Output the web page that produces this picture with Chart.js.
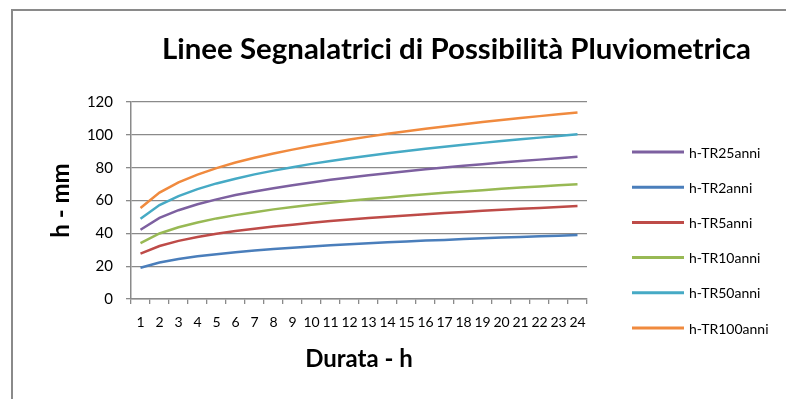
<!DOCTYPE html>
<html>
<head>
<meta charset="utf-8">
<script src="https://cdn.jsdelivr.net/npm/chart.js@4/dist/chart.umd.min.js"></script>
<style>
  html, body { margin: 0; padding: 0; background: #ffffff; }
  #wrap { width: 786px; height: 399px; }
</style>
</head>
<body>
<div id="wrap"><canvas id="lspp" width="786" height="399"></canvas></div>
<script>
// Durata (ore)
const durate = ['1','2','3','4','5','6','7','8','9','10','11','12','13','14','15','16','17','18','19','20','21','22','23','24'];

// Altezze di pioggia h (mm) per tempo di ritorno
const hTR25  = [42.2, 49.4, 54.1, 57.7, 60.7, 63.3, 65.5, 67.5, 69.3, 71.0, 72.6, 74.0, 75.4, 76.6, 77.8, 79.0, 80.1, 81.1, 82.1, 83.1, 84.0, 84.9, 85.8, 86.7];
const hTR2   = [19.0, 22.2, 24.4, 26.0, 27.3, 28.5, 29.5, 30.4, 31.2, 32.0, 32.7, 33.3, 33.9, 34.5, 35.0, 35.6, 36.0, 36.5, 37.0, 37.4, 37.8, 38.2, 38.6, 39.0];
const hTR5   = [27.6, 32.3, 35.4, 37.8, 39.7, 41.4, 42.8, 44.2, 45.3, 46.4, 47.5, 48.4, 49.3, 50.1, 50.9, 51.6, 52.4, 53.0, 53.7, 54.3, 54.9, 55.5, 56.1, 56.6];
const hTR10  = [34.1, 39.9, 43.7, 46.6, 49.1, 51.1, 52.9, 54.6, 56.0, 57.4, 58.6, 59.8, 60.9, 61.9, 62.9, 63.8, 64.7, 65.5, 66.3, 67.1, 67.9, 68.6, 69.3, 69.9];
const hTR50  = [48.9, 57.2, 62.7, 66.9, 70.4, 73.3, 75.9, 78.2, 80.3, 82.3, 84.1, 85.7, 87.3, 88.8, 90.2, 91.5, 92.8, 94.0, 95.1, 96.2, 97.3, 98.3, 99.3, 100.3];
const hTR100 = [55.4, 64.8, 71.0, 75.8, 79.7, 83.1, 86.0, 88.6, 91.0, 93.2, 95.2, 97.1, 98.9, 100.6, 102.2, 103.7, 105.1, 106.5, 107.8, 109.0, 110.2, 111.4, 112.5, 113.6];

const serieNomi = ['h-TR25anni', 'h-TR2anni', 'h-TR5anni', 'h-TR10anni', 'h-TR50anni', 'h-TR100anni'];
const serieDati = [hTR25, hTR2, hTR5, hTR10, hTR50, hTR100];
const serieColori = ['#7D60A0', '#4A7EBB', '#BE4B48', '#98B954', '#46AAC5', '#F08A3E'];

const titolo = 'Linee Segnalatrici di Possibilità Pluviometrica';
const FONT = 'Lato, "Open Sans", sans-serif';
const GRIGIO = '#8a8a8a';

// Cornice, titolo e legenda disegnati sul canvas
const decorazioni = {
  id: 'decorazioni',
  beforeDraw(chart) {
    const ctx = chart.ctx;
    ctx.save();
    ctx.strokeStyle = GRIGIO;
    ctx.lineWidth = 2;
    ctx.beginPath();
    ctx.moveTo(12, 399);
    ctx.lineTo(12, 10);
    ctx.lineTo(786, 10);
    ctx.stroke();
    ctx.restore();
  },
  afterDraw(chart) {
    const ctx = chart.ctx;
    ctx.save();
    ctx.fillStyle = '#000';
    ctx.font = 'bold 29px ' + FONT;
    ctx.textAlign = 'left';
    ctx.textBaseline = 'alphabetic';
    // titolo largo 589 px a partire da x = 162
    const w = ctx.measureText(titolo).width;
    ctx.save();
    ctx.translate(162, 59);
    ctx.scale(589 / w, 1);
    ctx.fillText(titolo, 0, 0);
    ctx.restore();

    ctx.font = '14px ' + FONT;
    ctx.textAlign = 'left';
    ctx.textBaseline = 'middle';
    chart.data.datasets.forEach((ds, i) => {
      const y = 152 + i * 35.2;
      ctx.strokeStyle = ds.borderColor;
      ctx.lineWidth = 3;
      ctx.beginPath();
      ctx.moveTo(632, y);
      ctx.lineTo(684, y);
      ctx.stroke();
      ctx.fillStyle = '#000';
      ctx.fillText(ds.label, 689, y + 1);
    });
    ctx.restore();
  }
};

new Chart(document.getElementById('lspp'), {
  type: 'line',
  data: {
    labels: durate,
    datasets: serieNomi.map((nome, i) => ({
      label: nome,
      data: serieDati[i],
      borderColor: serieColori[i],
      backgroundColor: serieColori[i],
      borderWidth: 2.5,
      pointRadius: 0,
      tension: 0,
      fill: false
    }))
  },
  options: {
    responsive: false,
    animation: false,
    layout: { padding: { top: 102, right: 199, bottom: 0, left: 0 } },
    plugins: {
      legend: { display: false },
      title: { display: false },
      tooltip: { enabled: false }
    },
    scales: {
      x: {
        offset: true,
        afterFit(scale) { scale.height = 100; },
        grid: {
          offset: true,
          drawOnChartArea: false,
          drawTicks: true,
          tickLength: 5,
          color: GRIGIO,
          lineWidth: 1.3
        },
        border: { display: true, color: GRIGIO, width: 1.5 },
        ticks: {
          autoSkip: false,
          maxRotation: 0,
          minRotation: 0,
          padding: 10,
          color: '#000',
          font: { family: FONT, size: 14 }
        },
        title: {
          display: true,
          text: 'Durata - h',
          color: '#000',
          font: { family: FONT, size: 24, weight: 'bold' },
          padding: { top: 0, bottom: 25 }
        }
      },
      y: {
        min: 0,
        max: 120,
        afterFit(scale) { scale.width = 131; },
        grid: {
          color: GRIGIO,
          lineWidth: 1.3,
          tickLength: 5
        },
        border: { display: true, color: GRIGIO, width: 1.5 },
        ticks: {
          stepSize: 20,
          padding: 13,
          color: '#000',
          font: { family: FONT, size: 15 }
        },
        title: {
          display: true,
          text: 'h - mm',
          color: '#000',
          font: { family: FONT, size: 24, weight: 'bold' },
          padding: { top: 47, bottom: 0 }
        }
      }
    }
  },
  plugins: [decorazioni]
});
</script>
</body>
</html>
